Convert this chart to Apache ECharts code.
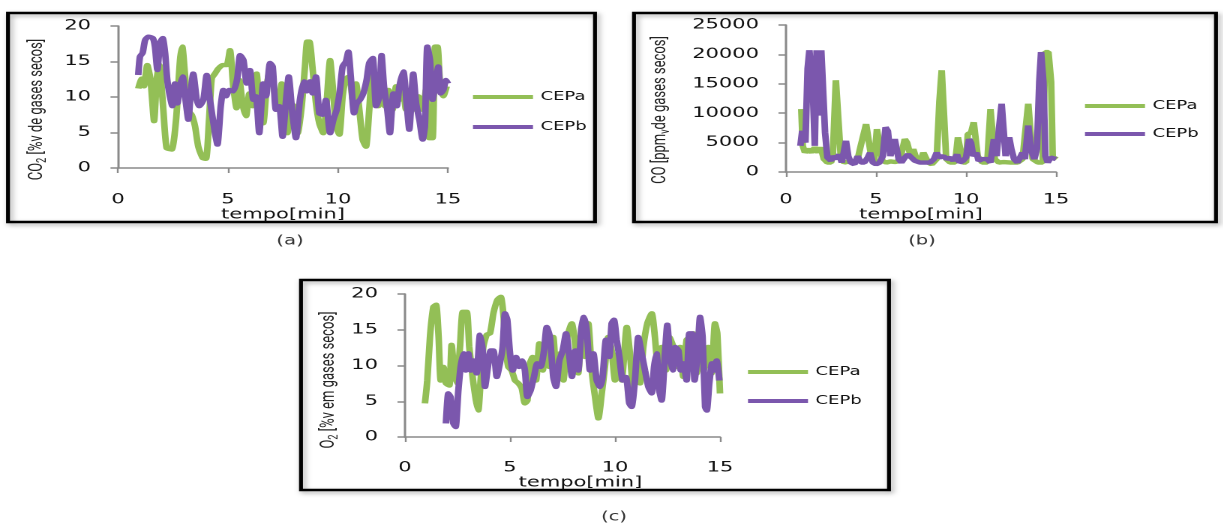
<!DOCTYPE html>
<html lang="pt">
<head>
<meta charset="UTF-8">
<title>CO2, CO e O2 - CEPa / CEPb</title>
<script src="https://cdn.jsdelivr.net/npm/echarts@6/dist/echarts.min.js"></script>
<style>
    html, body { margin: 0; padding: 0; background: #fff; overflow: hidden; }
    /* the source figure is stretched horizontally, so the chart is drawn narrow and scaled */
    #main { width: 815.33px; height: 527px; transform: scaleX(1.5); transform-origin: 0 0; }
</style>
</head>
<body>
<div id="main"></div>
<script type="text/javascript">
// (a) CO2 [%v], pairs [tempo min, valor]
var co2CEPa = [[0.92,11.2],[1.08,12.6],[1.18,11.5],[1.33,14.5],[1.48,12.4],[1.64,6.6],[1.76,12.4],[1.88,14.5],[2.06,8.2],[2.21,2.8],[2.44,2.6],[2.64,6.8],[2.82,15.2],[2.92,17.1],[3.05,12.9],[3.17,8.2],[3.35,7.5],[3.5,5.9],[3.65,3.0],[3.85,1.4],[4.0,1.3],[4.14,6.8],[4.26,12.6],[4.41,13.3],[4.56,14.0],[4.76,14.5],[4.94,14.5],[5.09,16.6],[5.24,11.5],[5.39,8.4],[5.52,12.4],[5.67,8.9],[5.82,7.3],[5.97,10.5],[6.12,8.7],[6.3,13.3],[6.45,7.7],[6.6,6.3],[6.76,11.5],[6.94,14.3],[7.14,10.1],[7.29,8.7],[7.44,11.9],[7.59,6.3],[7.7,4.9],[7.85,9.1],[8.0,8.7],[8.17,4.9],[8.35,8.7],[8.5,14.3],[8.6,17.8],[8.7,17.8],[8.85,13.8],[9.0,9.1],[9.15,6.3],[9.33,4.9],[9.48,9.1],[9.64,15.2],[9.76,11.5],[9.91,5.9],[10.06,4.7],[10.21,10.1],[10.36,12.6],[10.52,12.9],[10.67,9.6],[10.82,11.9],[10.97,8.2],[11.12,4.0],[11.27,3.0],[11.42,8.2],[11.58,14.3],[11.73,11.5],[11.83,8.7],[11.98,10.5],[12.14,8.7],[12.29,11.0],[12.48,8.2],[12.64,11.5],[12.79,9.6],[12.94,11.9],[13.09,8.2],[13.27,11.0],[13.42,8.2],[13.65,10.1],[13.85,8.2],[14.0,11.0],[14.15,4.2],[14.3,4.2],[14.41,17.1],[14.52,17.1],[14.64,11.9],[14.79,10.1],[14.94,11.5]];
var co2CEPb = [[0.92,13.1],[1.0,15.7],[1.12,16.2],[1.23,18.0],[1.38,18.5],[1.58,18.3],[1.68,17.1],[1.79,13.8],[1.91,17.6],[2.03,18.3],[2.14,16.2],[2.24,12.4],[2.36,10.1],[2.47,8.7],[2.59,11.9],[2.7,9.1],[2.82,11.5],[2.94,12.9],[3.05,10.1],[3.2,6.8],[3.3,10.5],[3.42,13.3],[3.58,9.6],[3.7,8.7],[3.88,9.6],[4.03,13.1],[4.18,9.6],[4.41,4.9],[4.52,3.3],[4.67,8.7],[4.79,11.0],[4.91,10.1],[5.06,11.0],[5.24,10.8],[5.42,12.6],[5.55,15.9],[5.7,15.2],[5.85,11.9],[6.0,13.8],[6.15,9.6],[6.27,10.1],[6.42,4.9],[6.6,11.9],[6.73,10.1],[6.91,14.8],[7.03,14.3],[7.18,8.2],[7.33,8.7],[7.48,4.4],[7.64,9.6],[7.76,12.9],[7.91,8.2],[8.09,4.2],[8.27,9.6],[8.45,12.2],[8.58,10.8],[8.73,12.2],[8.85,10.5],[9.0,12.9],[9.15,7.7],[9.3,7.5],[9.45,9.6],[9.64,4.9],[9.79,6.8],[9.94,8.2],[10.09,11.0],[10.21,14.3],[10.36,15.0],[10.47,16.4],[10.58,12.9],[10.73,7.7],[10.85,9.1],[11.0,9.6],[11.15,10.5],[11.3,12.4],[11.42,14.8],[11.58,15.5],[11.73,8.7],[11.88,10.1],[11.98,15.9],[12.09,11.5],[12.24,8.2],[12.36,4.9],[12.52,10.5],[12.67,8.7],[12.79,11.5],[12.97,13.6],[13.12,9.1],[13.24,5.4],[13.42,13.3],[13.55,9.1],[13.7,6.8],[13.85,4.0],[13.95,5.9],[14.06,17.1],[14.18,15.2],[14.3,9.6],[14.45,12.4],[14.56,14.3],[14.67,10.5],[14.79,11.0],[14.91,12.4],[15.0,11.9]];

// (b) CO [ppmv]
var coCEPa = [[0.85,10700],[0.93,4450],[1.05,3300],[1.23,3900],[1.42,3300],[1.6,4200],[1.8,3300],[1.93,4200],[2.1,2200],[2.3,1600],[2.5,1600],[2.6,2700],[2.77,15600],[2.9,15600],[3.05,2200],[3.23,1600],[3.5,1800],[3.75,1700],[3.98,2200],[4.17,4700],[4.3,4450],[4.45,8150],[4.6,8150],[4.73,2700],[4.9,1600],[5.05,7300],[5.2,7300],[5.35,1900],[5.57,1600],[5.8,1800],[6.05,1700],[6.32,1900],[6.6,5600],[6.73,5000],[6.92,2700],[7.07,3900],[7.25,2200],[7.44,1600],[7.63,3300],[7.78,3300],[7.9,1600],[8.1,1300],[8.37,2200],[8.52,11900],[8.65,17300],[8.78,9600],[8.9,2200],[9.12,1600],[9.4,1600],[9.55,5900],[9.68,5900],[9.83,1600],[10.0,1600],[10.1,6450],[10.28,6700],[10.43,8450],[10.54,8450],[10.65,2700],[10.9,1600],[11.18,1600],[11.36,10700],[11.48,10700],[11.6,2200],[11.83,1600],[12.1,1700],[12.5,1600],[12.86,1600],[13.14,2200],[13.33,7900],[13.46,11600],[13.57,11300],[13.7,2200],[14.0,1600],[14.26,1600],[14.4,20400],[14.58,20400],[14.73,15300],[14.82,2200],[15.0,2700]];
var coCEPb = [[0.8,4450],[0.9,7000],[1.0,7000],[1.08,5000],[1.2,17600],[1.3,20700],[1.42,20700],[1.5,13000],[1.6,4450],[1.7,20700],[1.8,20700],[1.87,9600],[1.96,20700],[2.07,20700],[2.17,6700],[2.3,2450],[2.5,1900],[2.63,2700],[2.8,2200],[2.95,3000],[3.1,1600],[3.33,5300],[3.46,2700],[3.6,1600],[3.8,1300],[3.98,2700],[4.17,1600],[4.35,1600],[4.54,2450],[4.67,3300],[4.82,1600],[5.0,1300],[5.2,1600],[5.38,2700],[5.53,7600],[5.66,7000],[5.8,2700],[5.94,2700],[6.04,5600],[6.13,5300],[6.26,2200],[6.41,1600],[6.6,2450],[6.78,3000],[6.97,2450],[7.16,1900],[7.44,1600],[7.72,1600],[8.0,1600],[8.22,2200],[8.37,3300],[8.52,2450],[8.75,2700],[8.93,2200],[9.12,2450],[9.3,1900],[9.5,3000],[9.64,1600],[9.83,1900],[10.0,2450],[10.17,5600],[10.28,5000],[10.4,2700],[10.58,3300],[10.7,1900],[10.9,2200],[11.18,2200],[11.36,1600],[11.55,5600],[11.7,2700],[11.83,7300],[11.98,11600],[12.07,11600],[12.2,2700],[12.4,5900],[12.52,3900],[12.67,2200],[12.86,1600],[13.0,2450],[13.14,3300],[13.27,2200],[13.46,7900],[13.6,3900],[13.8,2200],[13.94,3900],[14.07,15300],[14.17,20400],[14.3,15300],[14.41,2700],[14.54,1600],[14.7,2450],[14.82,2700],[15.0,2200]];

// (c) O2 [%v]
var o2CEPa = [[0.95,4.7],[1.06,7.9],[1.19,14.0],[1.35,18.2],[1.48,18.5],[1.6,14.0],[1.7,7.9],[1.83,9.8],[1.95,7.5],[2.11,7.2],[2.22,12.9],[2.33,9.6],[2.46,7.5],[2.62,12.6],[2.75,17.5],[2.94,17.5],[3.06,12.6],[3.22,8.4],[3.38,5.1],[3.49,3.7],[3.6,7.9],[3.73,12.6],[3.89,14.3],[4.05,14.5],[4.21,17.3],[4.4,19.2],[4.56,19.6],[4.68,17.3],[4.81,12.1],[4.92,9.8],[5.08,9.3],[5.24,7.9],[5.4,7.5],[5.56,6.8],[5.71,4.7],[5.83,5.1],[5.95,10.3],[6.08,11.2],[6.24,7.9],[6.4,13.1],[6.56,9.3],[6.71,12.6],[6.87,9.8],[7.06,14.0],[7.22,7.9],[7.38,11.7],[7.54,7.9],[7.73,14.0],[7.94,15.9],[8.1,13.1],[8.25,8.9],[8.41,15.4],[8.57,11.2],[8.73,15.9],[8.89,9.3],[9.05,5.6],[9.21,2.6],[9.37,6.1],[9.52,9.8],[9.68,14.0],[9.84,12.1],[10.0,7.9],[10.16,11.7],[10.32,7.9],[10.56,15.4],[10.71,11.7],[10.87,7.0],[11.03,9.8],[11.19,7.5],[11.35,12.6],[11.54,15.9],[11.75,17.3],[11.9,14.0],[12.06,9.3],[12.22,12.6],[12.43,9.3],[12.59,14.0],[12.78,12.6],[12.94,9.8],[13.1,12.6],[13.25,8.4],[13.41,13.6],[13.57,14.0],[13.73,14.5],[13.89,8.9],[14.05,13.6],[14.21,9.3],[14.44,12.6],[14.6,8.9],[14.76,15.9],[14.87,14.5],[15.0,6.1]];
var o2CEPb = [[1.95,1.9],[2.06,6.1],[2.17,5.6],[2.3,1.9],[2.41,1.4],[2.54,6.5],[2.65,9.8],[2.78,11.7],[2.9,9.3],[3.02,11.7],[3.13,9.3],[3.25,10.7],[3.41,8.9],[3.57,14.3],[3.7,12.1],[3.81,7.0],[3.97,10.3],[4.08,12.1],[4.21,12.1],[4.37,8.4],[4.52,10.3],[4.65,12.6],[4.76,17.3],[4.87,16.4],[5.0,11.7],[5.13,9.3],[5.29,11.2],[5.44,9.8],[5.59,10.7],[5.71,9.3],[5.83,5.6],[5.98,6.5],[6.14,8.4],[6.3,10.3],[6.46,9.8],[6.62,12.1],[6.75,15.4],[6.9,14.0],[7.06,8.4],[7.19,7.0],[7.35,10.7],[7.51,12.1],[7.67,14.5],[7.83,11.2],[7.95,8.4],[8.11,12.1],[8.25,9.3],[8.41,15.4],[8.52,16.8],[8.65,15.0],[8.81,9.3],[8.97,11.7],[9.13,7.9],[9.29,7.0],[9.41,8.4],[9.57,13.6],[9.73,11.2],[9.84,15.9],[9.95,16.4],[10.08,13.6],[10.21,11.2],[10.37,7.9],[10.52,8.4],[10.68,4.7],[10.79,4.2],[10.95,7.9],[11.11,14.0],[11.27,11.7],[11.43,9.3],[11.59,7.0],[11.75,6.1],[11.86,9.8],[11.98,11.7],[12.11,6.5],[12.22,5.1],[12.38,11.7],[12.49,15.7],[12.62,11.2],[12.75,9.3],[12.87,12.6],[13.02,12.1],[13.13,9.3],[13.25,10.3],[13.41,7.9],[13.54,14.5],[13.67,14.5],[13.79,7.9],[13.92,11.2],[14.05,16.8],[14.17,14.0],[14.29,4.2],[14.37,3.7],[14.49,7.5],[14.62,10.3],[14.71,9.3],[14.84,10.7],[14.97,7.9]];

var seriesNames = ['CEPa', 'CEPb'];
var seriesColors = ['#93bf56', '#7b57ad'];
var timeTicks = { min: 0, max: 15, interval: 5 };

var S = 1.5;            // horizontal stretch of the figure
function sx(v) { return v / S; }

var labelFont = 'DejaVu Sans';
var axisGray = '#8a8a8a';

function xAxisFor(gi, labelMargin, nameGap, namePad) {
    return {
        gridIndex: gi, type: 'value',
        min: timeTicks.min, max: timeTicks.max, interval: timeTicks.interval,
        name: 'tempo[min]', nameLocation: 'middle', nameGap: nameGap,
        nameTextStyle: { fontFamily: labelFont, fontSize: 14, color: '#111', padding: namePad || 0 },
        axisLine: { onZero: false, lineStyle: { color: axisGray, width: 1.5 } },
        axisTick: { show: true, length: 5, lineStyle: { color: axisGray, width: 1.2 } },
        axisLabel: { margin: labelMargin, fontFamily: labelFont, fontSize: 14, color: '#111' },
        splitLine: { show: false }
    };
}

function yAxisFor(gi, max, interval, name, nameGap, namePad) {
    return {
        gridIndex: gi, type: 'value', min: 0, max: max, interval: interval,
        name: name, nameLocation: 'middle', nameGap: nameGap,
        nameTextStyle: {
            color: '#222', padding: namePad,
            rich: {
                n: { fontFamily: 'Roboto', fontSize: 13, color: '#222', lineHeight: 16, verticalAlign: 'middle' },
                s: { fontFamily: 'Roboto', fontSize: 9, color: '#222', lineHeight: 8, verticalAlign: 'bottom' }
            }
        },
        axisLine: { show: true, lineStyle: { color: axisGray, width: 1.5 } },
        axisTick: { show: true, length: 5, lineStyle: { color: axisGray, width: 1.5 } },
        axisLabel: {
            margin: 18, fontFamily: labelFont, fontSize: 14, color: '#111',
            formatter: function (v) { return String(v); }
        },
        splitLine: { show: false }
    };
}

function legendFor(left, top, gap) {
    return {
        orient: 'vertical', left: sx(left), top: top, itemGap: gap, padding: 0,
        itemWidth: sx(60), itemHeight: 4, icon: 'rect', selectedMode: false,
        data: seriesNames,
        textStyle: { fontFamily: labelFont, fontSize: 12, color: '#111', lineHeight: 14 }
    };
}

function lineFor(gi, idx, data, smooth) {
    return {
        name: seriesNames[idx], type: 'line', xAxisIndex: gi, yAxisIndex: gi,
        data: data, showSymbol: false, symbol: 'none', smooth: smooth,
        color: seriesColors[idx],
        lineStyle: { color: seriesColors[idx], width: 4.4 }
    };
}

function box(x1, y1, x2, y2) {
    return {
        type: 'rect', silent: true,
        shape: { x: sx(x1), y: y1, width: sx(x2 - x1), height: y2 - y1 },
        style: {
            fill: 'none', stroke: '#000', lineWidth: 2.6,
            shadowBlur: 4, shadowColor: 'rgba(0,0,0,0.35)', shadowOffsetX: 1.5, shadowOffsetY: 2
        }
    };
}

function caption(text, x, y) {
    return {
        type: 'text', silent: true, x: sx(x), y: y,
        style: { text: text, fontFamily: 'DejaVu Sans', fontSize: 13, fill: '#333',
                 align: 'center', verticalAlign: 'middle' }
    };
}

var chart = echarts.init(document.getElementById('main'), null, { renderer: 'canvas', devicePixelRatio: 2 });

chart.setOption({
    animation: false,
    backgroundColor: '#fff',
    grid: [
        { left: sx(118), top: 26, width: sx(330), height: 142 },
        { left: sx(786), top: 25, width: sx(270), height: 147 },
        { left: sx(405), top: 294, width: sx(315), height: 143 }
    ],
    xAxis: [
        xAxisFor(0, 25, 33),
        xAxisFor(1, 21, 27),
        xAxisFor(2, 24, 30, [0, 0, 0, 24])
    ],
    yAxis: [
        yAxisFor(0, 20, 5, '{n|CO}{s|2}{n| [%v de gases secos]}', 46, [0, 25, 0, 0]),
        yAxisFor(1, 25000, 5000, '{n|CO [ppm}{s|v}{n|de gases secos]}', 76, [0, 23, 0, 0]),
        yAxisFor(2, 20, 5, '{n|O}{s|2}{n| [%v em gases secos]}', 43, [0, 29, 0, 0])
    ],
    legend: [
        legendFor(473, 90, 16),
        legendFor(1085, 99, 14),
        legendFor(748, 365, 15)
    ],
    series: [
        lineFor(0, 0, co2CEPa, 0.2),
        lineFor(0, 1, co2CEPb, 0.2),
        lineFor(1, 0, coCEPa, false),
        lineFor(1, 1, coCEPb, false),
        lineFor(2, 0, o2CEPa, 0.2),
        lineFor(2, 1, o2CEPb, 0.2)
    ],
    graphic: [
        box(8, 13, 595, 222),
        box(634, 13, 1216, 222),
        box(301, 280, 889, 490),
        caption('(a)', 290, 241),
        caption('(b)', 922, 241),
        caption('(c)', 614, 517)
    ]
});
</script>
</body>
</html>
